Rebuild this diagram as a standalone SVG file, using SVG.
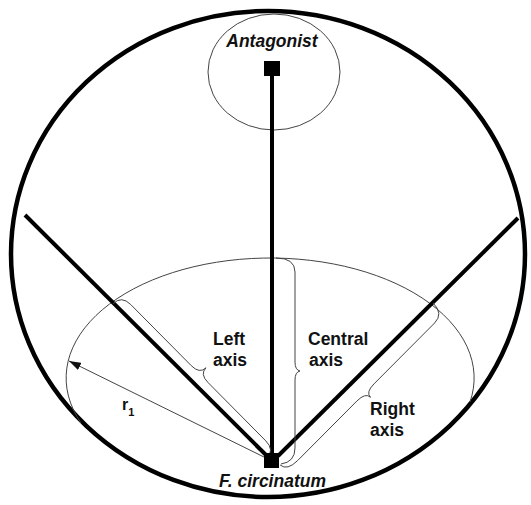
<svg xmlns="http://www.w3.org/2000/svg" width="531" height="505" viewBox="0 0 531 505">
<style>
.thick{stroke:#000;stroke-width:4;fill:none;stroke-linecap:butt}
.thin{stroke:#444;stroke-width:1;fill:none}
.lbl{font-family:"Liberation Sans",Arial,sans-serif;font-weight:bold;font-size:17.5px;fill:#111}
.it{font-style:italic;font-size:17.5px}
</style>
<defs>
<marker id="ah" viewBox="0 0 12 8" refX="12" refY="4" markerWidth="12" markerHeight="8" markerUnits="userSpaceOnUse" orient="auto">
<path d="M0,0 L12,4 L0,8 Z" fill="#111"/>
</marker>
</defs>
<rect width="531" height="505" fill="#fff"/>
<g id="boundary">
<ellipse cx="268" cy="254" rx="257" ry="243" fill="none" stroke="#000" stroke-width="4.5"/>
<ellipse cx="274" cy="72" rx="66" ry="58" class="thin"/>
<path d="M81 423 A204 120 0 1 1 470 402" class="thin"/>
</g>
<g id="connectors">
<line x1="272" y1="70" x2="272" y2="455" class="thick"/>
<line x1="25" y1="215" x2="267" y2="456" class="thick"/>
<line x1="518" y1="218" x2="278" y2="456" class="thick"/>
<line x1="266" y1="458" x2="69" y2="361" class="thin" marker-end="url(#ah)"/>
<path d="M113 303.8 Q121.5 295.3 130.7 304.5 L191.2 365.6 Q199.6 374.1 206 367.8 Q199.6 374.1 208.1 382.6 L265.8 440.9 Q275 450.1 266.5 458.5" class="thin"/>
<path d="M276 258 Q295 258 295 272 L295 362 Q295 370 300 371 Q295 372 295 380 L295 448 Q295 462 281 464" class="thin"/>
<path d="M433.2 303.1 Q443.8 313.7 434.6 323 L374 383.9 Q365.5 392.4 370.5 397.3 Q365.5 392.4 357 400.9 L297.8 460.4 Q287.2 471 280.1 465" class="thin"/>
</g>
<g id="antagonist">
<rect x="264" y="61" width="16" height="15" fill="#000"/>
<text x="272" y="47" text-anchor="middle" class="lbl it">Antagonist</text>
</g>
<g id="f-circinatum">
<rect x="264" y="453" width="15" height="15" fill="#000"/>
<text x="272.5" y="487" text-anchor="middle" class="lbl it">F. circinatum</text>
</g>
<g id="left-axis">
<text x="213" y="345" class="lbl">Left</text>
<text x="213" y="366" class="lbl">axis</text>
</g>
<g id="central-axis">
<text x="308" y="345" class="lbl">Central</text>
<text x="309" y="366" class="lbl">axis</text>
</g>
<g id="right-axis">
<text x="370" y="415" class="lbl">Right</text>
<text x="370" y="436" class="lbl">axis</text>
</g>
<g id="r1-label">
<text x="122" y="410" class="lbl" style="font-size:16px">r<tspan font-size="11" dy="6">1</tspan></text>
</g>
</svg>
